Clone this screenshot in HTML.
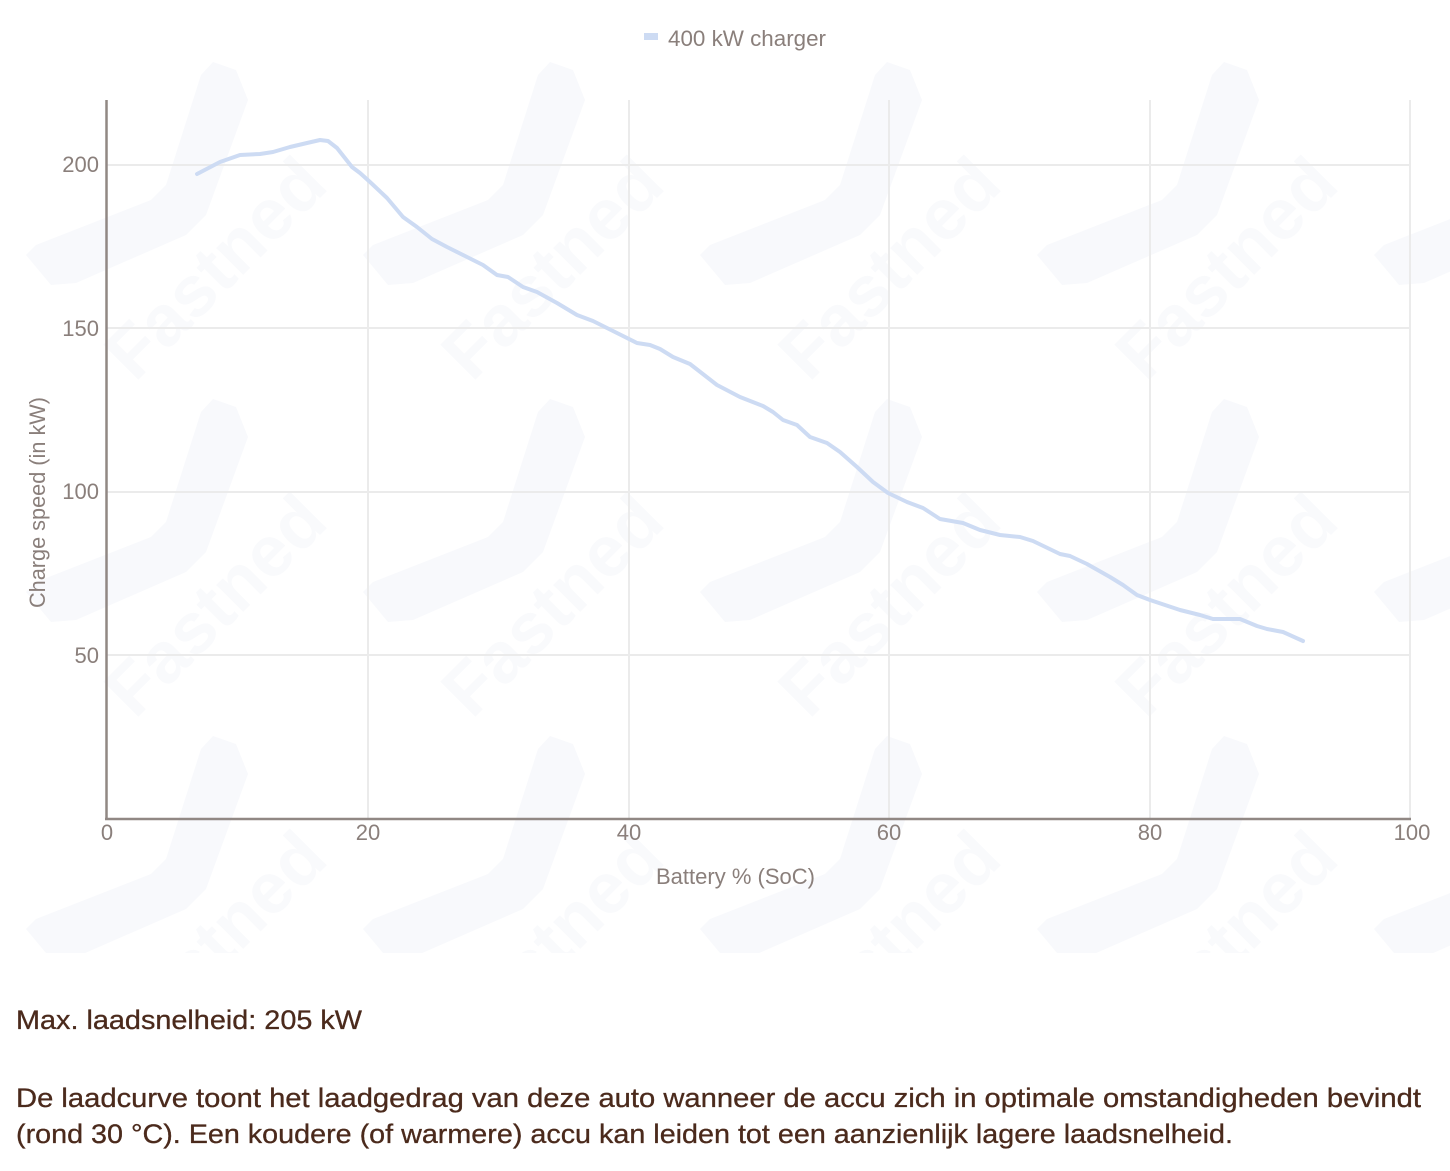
<!DOCTYPE html>
<html>
<head>
<meta charset="utf-8">
<style>
  html, body { margin: 0; padding: 0; background: #ffffff; }
  body { width: 1450px; height: 1171px; overflow: hidden; }
  svg { display: block; }
  .wm-shape { fill: #f8f9fc; }
  .wm-text { fill: #f9fafc; font-family: "Liberation Sans", sans-serif; font-weight: bold; font-size: 72px; }
  .tick { fill: #8a7f7b; font-family: "Liberation Sans", sans-serif; font-size: 22px; }
  .body { fill: #4b2a1c; font-family: "Liberation Sans", sans-serif; font-size: 27px; stroke: #4b2a1c; stroke-width: 0.3px; }
</style>
</head>
<body>
<svg width="1450" height="1171" viewBox="0 0 1450 1171" xmlns="http://www.w3.org/2000/svg">
  <defs>
    <clipPath id="wmclip"><rect x="0" y="0" width="1450" height="953"/></clipPath>
  </defs>

  <!-- watermark tiles -->
  <g clip-path="url(#wmclip)">
    <g transform="translate(0,0)"><polygon class="wm-shape" points="213,62 236,70 248,100 206,215 186,235 76,283 51,285 26,255 36,245 151,200 166,185 201,75"/><text class="wm-text" transform="translate(135,383) rotate(-45)">Fastned</text></g>
    <g transform="translate(337,0)"><polygon class="wm-shape" points="213,62 236,70 248,100 206,215 186,235 76,283 51,285 26,255 36,245 151,200 166,185 201,75"/><text class="wm-text" transform="translate(135,383) rotate(-45)">Fastned</text></g>
    <g transform="translate(674,0)"><polygon class="wm-shape" points="213,62 236,70 248,100 206,215 186,235 76,283 51,285 26,255 36,245 151,200 166,185 201,75"/><text class="wm-text" transform="translate(135,383) rotate(-45)">Fastned</text></g>
    <g transform="translate(1011,0)"><polygon class="wm-shape" points="213,62 236,70 248,100 206,215 186,235 76,283 51,285 26,255 36,245 151,200 166,185 201,75"/><text class="wm-text" transform="translate(135,383) rotate(-45)">Fastned</text></g>
    <g transform="translate(1348,0)"><polygon class="wm-shape" points="213,62 236,70 248,100 206,215 186,235 76,283 51,285 26,255 36,245 151,200 166,185 201,75"/></g>

    <g transform="translate(0,337)"><polygon class="wm-shape" points="213,62 236,70 248,100 206,215 186,235 76,283 51,285 26,255 36,245 151,200 166,185 201,75"/><text class="wm-text" transform="translate(135,383) rotate(-45)">Fastned</text></g>
    <g transform="translate(337,337)"><polygon class="wm-shape" points="213,62 236,70 248,100 206,215 186,235 76,283 51,285 26,255 36,245 151,200 166,185 201,75"/><text class="wm-text" transform="translate(135,383) rotate(-45)">Fastned</text></g>
    <g transform="translate(674,337)"><polygon class="wm-shape" points="213,62 236,70 248,100 206,215 186,235 76,283 51,285 26,255 36,245 151,200 166,185 201,75"/><text class="wm-text" transform="translate(135,383) rotate(-45)">Fastned</text></g>
    <g transform="translate(1011,337)"><polygon class="wm-shape" points="213,62 236,70 248,100 206,215 186,235 76,283 51,285 26,255 36,245 151,200 166,185 201,75"/><text class="wm-text" transform="translate(135,383) rotate(-45)">Fastned</text></g>
    <g transform="translate(1348,337)"><polygon class="wm-shape" points="213,62 236,70 248,100 206,215 186,235 76,283 51,285 26,255 36,245 151,200 166,185 201,75"/></g>

    <g transform="translate(0,674)"><polygon class="wm-shape" points="213,62 236,70 248,100 206,215 186,235 76,283 51,285 26,255 36,245 151,200 166,185 201,75"/><text class="wm-text" transform="translate(135,383) rotate(-45)">Fastned</text></g>
    <g transform="translate(337,674)"><polygon class="wm-shape" points="213,62 236,70 248,100 206,215 186,235 76,283 51,285 26,255 36,245 151,200 166,185 201,75"/><text class="wm-text" transform="translate(135,383) rotate(-45)">Fastned</text></g>
    <g transform="translate(674,674)"><polygon class="wm-shape" points="213,62 236,70 248,100 206,215 186,235 76,283 51,285 26,255 36,245 151,200 166,185 201,75"/><text class="wm-text" transform="translate(135,383) rotate(-45)">Fastned</text></g>
    <g transform="translate(1011,674)"><polygon class="wm-shape" points="213,62 236,70 248,100 206,215 186,235 76,283 51,285 26,255 36,245 151,200 166,185 201,75"/><text class="wm-text" transform="translate(135,383) rotate(-45)">Fastned</text></g>
    <g transform="translate(1348,674)"><polygon class="wm-shape" points="213,62 236,70 248,100 206,215 186,235 76,283 51,285 26,255 36,245 151,200 166,185 201,75"/></g>
  </g>

  <!-- legend -->
  <rect x="644" y="33" width="14" height="7" fill="#cddbf3"/>
  <text class="tick" x="668" y="46" textLength="158" lengthAdjust="spacingAndGlyphs">400 kW charger</text>

  <!-- gridlines -->
  <g stroke="#ebebeb" stroke-width="2" fill="none">
    <line x1="368" y1="100" x2="368" y2="818"/>
    <line x1="629" y1="100" x2="629" y2="818"/>
    <line x1="889" y1="100" x2="889" y2="818"/>
    <line x1="1150" y1="100" x2="1150" y2="818"/>
    <line x1="1410" y1="100" x2="1410" y2="818"/>
    <line x1="107" y1="165" x2="1411" y2="165"/>
    <line x1="107" y1="328" x2="1411" y2="328"/>
    <line x1="107" y1="492" x2="1411" y2="492"/>
    <line x1="107" y1="655" x2="1411" y2="655"/>
  </g>

  <!-- axes -->
  <line x1="106.5" y1="100" x2="106.5" y2="820" stroke="#918884" stroke-width="2.5"/>
  <line x1="105" y1="819" x2="1411" y2="819" stroke="#918884" stroke-width="2.5"/>

  <!-- y tick labels -->
  <text class="tick" x="99" y="172" text-anchor="end">200</text>
  <text class="tick" x="99" y="336" text-anchor="end">150</text>
  <text class="tick" x="99" y="499" text-anchor="end">100</text>
  <text class="tick" x="99" y="663" text-anchor="end">50</text>

  <!-- x tick labels -->
  <text class="tick" x="107" y="840" text-anchor="middle">0</text>
  <text class="tick" x="368" y="840" text-anchor="middle">20</text>
  <text class="tick" x="629" y="840" text-anchor="middle">40</text>
  <text class="tick" x="889" y="840" text-anchor="middle">60</text>
  <text class="tick" x="1150" y="840" text-anchor="middle">80</text>
  <text class="tick" x="1412" y="840" text-anchor="middle">100</text>

  <!-- axis titles -->
  <text class="tick" x="656" y="884" textLength="159" lengthAdjust="spacingAndGlyphs">Battery % (SoC)</text>
  <text class="tick" transform="translate(45,608) rotate(-90)" textLength="211" lengthAdjust="spacingAndGlyphs">Charge speed (in kW)</text>

  <!-- series -->
  <polyline fill="none" stroke="#cddbf3" stroke-width="4" stroke-linejoin="round" stroke-linecap="round"
    points="197,174 220,162 240,155 260,154 273,152 290,147 307,143 320,140 328,141 337,148 352,167 360,173 370,182 387,198 403,217 417,227 432,239 447,247 467,257 483,265 497,275 508,277 523,287 537,292 557,303 577,315 593,321 613,331 637,343 650,345 660,349 673,357 690,364 717,385 740,397 763,406 773,412 783,420 797,425 810,437 827,443 840,452 857,467 873,482 888,493 907,502 923,508 940,519 963,523 980,530 1000,535 1020,537 1033,541 1060,554 1070,556 1087,564 1110,577 1123,585 1137,595 1150,600 1180,610 1200,615 1213,619 1240,619 1257,626 1267,629 1283,632 1303,641"/>

  <!-- body text -->
  <text class="body" x="16" y="1029" textLength="346" lengthAdjust="spacingAndGlyphs">Max. laadsnelheid: 205 kW</text>
  <text class="body" x="16" y="1107" textLength="1405" lengthAdjust="spacingAndGlyphs">De laadcurve toont het laadgedrag van deze auto wanneer de accu zich in optimale omstandigheden bevindt</text>
  <text class="body" x="16" y="1143" textLength="1217" lengthAdjust="spacingAndGlyphs">(rond 30 °C). Een koudere (of warmere) accu kan leiden tot een aanzienlijk lagere laadsnelheid.</text>
</svg>
</body>
</html>
